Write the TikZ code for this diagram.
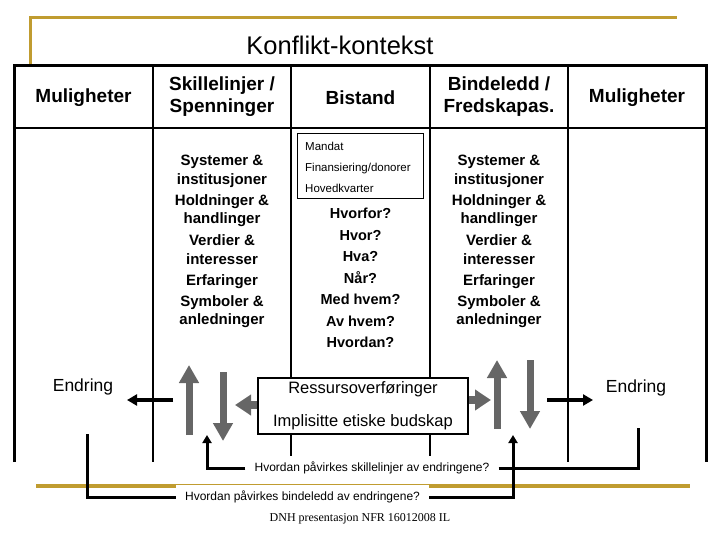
\documentclass[tikz,border=0pt]{standalone}
\usepackage{fontspec}
\setmainfont{Liberation Sans}
\newfontfamily\footserif{Liberation Serif}
\usetikzlibrary{arrows.meta,calc}
\definecolor{goldline}{RGB}{192,156,48}
\definecolor{arrgray}{RGB}{102,102,102}
\begin{document}
\begin{tikzpicture}[x=1pt,y=-1pt,
  hdr/.style={font=\fontsize{19}{22}\selectfont\bfseries, align=center, inner sep=0pt},
  lst/.style={font=\fontsize{15}{19}\selectfont\bfseries, inner sep=0pt, text height=11pt, text depth=3pt},
  small/.style={font=\fontsize{11.5}{14}\selectfont, inner sep=0pt, anchor=west, text height=8.5pt, text depth=2.5pt},
  qtext/.style={fill=white, inner xsep=9pt, inner ysep=0pt, minimum height=25pt, font=\fontsize{12}{14}\selectfont},
  garrow/.style={draw=arrgray, line width=7pt, -{Triangle[length=18pt,width=19pt]}, arrgray},
  sarrow/.style={draw=arrgray, line width=8pt, -{Triangle[length=16pt,width=20pt]}, arrgray},
  barrow/.style={line width=4pt, -{Triangle[length=10pt,width=11pt]}},
  conn/.style={line width=3pt},
  tline/.style={line width=2pt}]
\useasboundingbox (0,0) rectangle (720,540);
% gold frame lines
\draw[goldline, line width=3pt] (30,65) -- (30,18) -- (677,18);
\draw[goldline, line width=3.5pt] (36,486) -- (690,486);
% title
\node[font=\fontsize{25.5}{28}\selectfont] (title) at (340,45) {Konflikt-kontekst};
% table
\draw[line width=3pt] (14,462) -- (14,66) -- (706,66) -- (706,462);
\draw[line width=2.5pt] (14,128) -- (706,128);
\draw[tline] (153,66) -- (153,462);
\draw[tline] (568,66) -- (568,462);
\draw[tline] (291,66) -- (291,457);
\draw[tline] (430,66) -- (430,457);
% headers
\node[hdr] (h1) at (83.5,98) {Muligheter};
\node[hdr] (h2) at (222,97) {Skillelinjer /\\Spenninger};
\node[hdr] (h3) at (360.5,98) {Bistand};
\node[hdr] (h4) at (499,97) {Bindeledd /\\Fredskapas.};
\node[hdr] (h5) at (637,98) {Muligheter};
% Mandat box
\node[draw, line width=1pt, minimum width=126pt, minimum height=65pt, anchor=north west, inner sep=0pt] (mandat) at (297,133) {};
\node[small] (m1) at (305,147.5) {Mandat};
\node[small] (m2) at (305,168.5) {Finansiering/donorer};
\node[small] (m3) at (305,189.5) {Hovedkvarter};
% lists
\foreach \yy/\txt [count=\i] in {162/Systemer \&,181/institusjoner,202/Holdninger \&,220/handlinger,241/Verdier \&,260/interesser,281/Erfaringer,302/Symboler \&,320/anledninger}{
  \node[lst] (sl\i) at (222,\yy) {\txt};
  \node[lst] (sr\i) at (499,\yy) {\txt};
}
\node[font=\fontsize{14.5}{21.5}\selectfont\bfseries, align=center, inner sep=0pt] (qs) at (360.5,278) {Hvorfor?\\Hvor?\\Hva?\\Når?\\Med hvem?\\Av hvem?\\Hvordan?};
% Endring
\node[font=\fontsize{17.5}{20}\selectfont, inner sep=0pt] (endL) at (83,387) {Endring};
\node[font=\fontsize{17.5}{20}\selectfont, inner sep=0pt] (endR) at (636,388) {Endring};
% central box
\node[draw, fill=white, line width=1.2pt, minimum width=210pt, minimum height=56pt, inner sep=0pt, align=center, font=\fontsize{16.5}{33}\selectfont] (res) at (363,406) {Ressursoverføringer\\Implisitte etiske budskap};
% gray arrows
\coordinate (glt) at (235,405);
\coordinate (grt) at (491,400);
\draw[sarrow] ([yshift=1pt]res.west) -- (glt);
\draw[sarrow] ([yshift=6pt]res.east) -- (grt);
\coordinate (u1s) at (189,435); \coordinate (u1e) at (189,365);
\coordinate (d1s) at (223,372); \coordinate (d1e) at (223,441);
\coordinate (u2s) at (497,429); \coordinate (u2e) at (497,360);
\coordinate (d2s) at (530,360); \coordinate (d2e) at (530,429);
\draw[garrow] (u1s) -- (u1e);
\draw[garrow] (d1s) -- (d1e);
\draw[garrow] (u2s) -- (u2e);
\draw[garrow] (d2s) -- (d2e);
% black arrows to Endring
\coordinate (b1s) at (173,400); \coordinate (b1e) at (127,400);
\coordinate (b2s) at (547,400); \coordinate (b2e) at (593,400);
\draw[barrow] (b1s) -- (b1e);
\draw[barrow] (b2s) -- (b2e);
% bottom questions
\node[qtext] (q1) at (372,468) {Hvordan påvirkes skillelinjer av endringene?};
\node[qtext] (q2) at (302.5,497) {Hvordan påvirkes bindeledd av endringene?};
\coordinate (tipL) at (207,435);
\coordinate (tipR) at (513,435);
\coordinate (rv) at (638,428);
\coordinate (lv) at (87,434);
\draw[conn, -{Triangle[length=8pt,width=9pt]}] (q1.west) -| (tipL);
\draw[conn] (q1.east) -| (rv);
\draw[conn] (lv) |- (q2.west);
\draw[conn, -{Triangle[length=8pt,width=9pt]}] (q2.east) -| (tipR);
% footer
\node[font=\footserif\fontsize{12}{14}\selectfont] (foot) at (360,519) {DNH presentasjon NFR 16012008 IL};
\end{tikzpicture}
\end{document}
